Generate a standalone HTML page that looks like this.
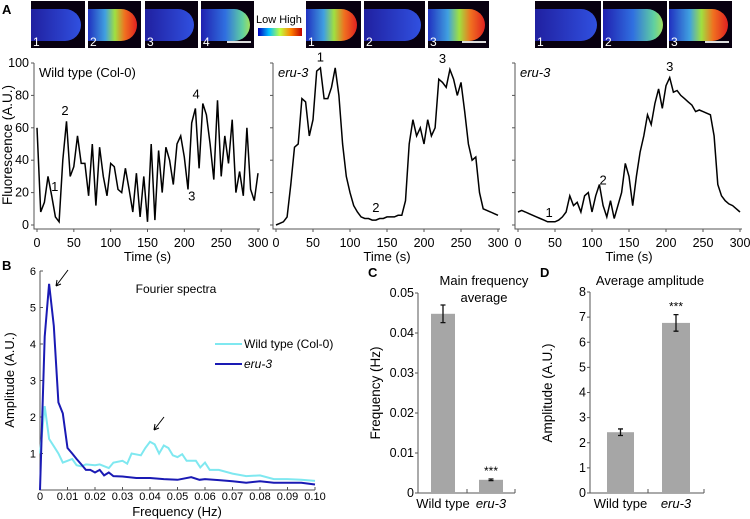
<!DOCTYPE html>
<html><head><meta charset="utf-8"><style>
html,body{margin:0;padding:0;background:#fff}
svg{display:block;font-family:"Liberation Sans",Arial,sans-serif}
</style></head><body>
<svg id="fig" width="750" height="519" viewBox="0 0 750 519" xmlns="http://www.w3.org/2000/svg">
<defs>
<linearGradient id="gHigh" x1="0" x2="1" y1="0" y2="0"><stop offset="0" stop-color="#2030c0"/><stop offset="0.35" stop-color="#40a0e0"/><stop offset="0.55" stop-color="#a0e040"/><stop offset="0.75" stop-color="#f07020"/><stop offset="1" stop-color="#e02020"/></linearGradient>
<linearGradient id="gMid" x1="0" x2="1" y1="0" y2="0"><stop offset="0" stop-color="#2020b0"/><stop offset="0.5" stop-color="#3070e0"/><stop offset="0.85" stop-color="#60d0a0"/><stop offset="1" stop-color="#a0e060"/></linearGradient>
<linearGradient id="gLow" x1="0" x2="1" y1="0" y2="0"><stop offset="0" stop-color="#2020a0"/><stop offset="1" stop-color="#3050e0"/></linearGradient>
<linearGradient id="gBar" x1="0" x2="1" y1="0" y2="0"><stop offset="0" stop-color="#0000c0"/><stop offset="0.25" stop-color="#00c0ff"/><stop offset="0.5" stop-color="#c0ff40"/><stop offset="0.75" stop-color="#ff8000"/><stop offset="1" stop-color="#c00000"/></linearGradient>
</defs>
<g id="imgs"></g>
<g id="charts"></g>
</svg>
<script>
// ---- data ----
const timeStep = 5;
const wtTrace = [60,8,14,30,18,5,2,40,64,30,36,55,38,38,18,50,12,48,30,18,38,36,22,20,35,22,8,32,5,30,2,50,3,46,20,48,40,25,50,55,42,22,63,72,35,75,68,50,28,77,30,55,38,65,20,33,18,60,22,15,32];
const eruTraceA = [0,1,2,5,25,48,50,78,76,55,65,95,97,78,78,85,97,80,50,30,20,12,8,5,4,4,3,3,4,4,5,5,5,6,6,15,50,65,55,60,50,65,55,60,90,88,85,96,90,80,88,70,50,40,42,20,10,9,8,7,6];
const eruTraceB = [8,9,8,7,6,5,4,3,2,2,2,3,5,8,18,12,14,8,18,20,8,18,25,12,5,15,4,12,20,38,30,12,30,45,55,68,62,75,84,72,86,91,82,83,80,78,76,74,70,71,70,69,68,55,25,18,15,13,12,10,8];
const timeTicks = [0,50,100,150,200,250,300];
const fluoTicks = [0,20,40,60,80,100];
const specFreq = [0,0.0017,0.0033,0.005,0.0067,0.0083,0.01,0.0117,0.0133,0.015,0.0167,0.0183,0.02,0.0217,0.0233,0.025,0.0267,0.03,0.035,0.04,0.045,0.05,0.055,0.058,0.06,0.065,0.07,0.075,0.08,0.085,0.09,0.095,0.1];
const specEru = [0,4.2,5.65,4.5,2.4,2.1,1.15,1.0,0.85,0.7,0.55,0.55,0.48,0.55,0.4,0.48,0.38,0.37,0.33,0.33,0.3,0.28,0.35,0.28,0.3,0.27,0.24,0.2,0.24,0.2,0.2,0.2,0.15];
const wtFreq = [0,0.0017,0.0033,0.005,0.0067,0.0083,0.01,0.0117,0.0133,0.015,0.0167,0.02,0.0217,0.025,0.0267,0.03,0.0317,0.0333,0.0367,0.0383,0.04,0.0417,0.0433,0.045,0.0467,0.0483,0.05,0.0517,0.0533,0.0567,0.0583,0.06,0.0617,0.065,0.07,0.075,0.08,0.085,0.09,0.095,0.1];
const specWt = [1,2.3,1.4,1.2,1.0,0.75,0.8,0.85,0.68,0.65,0.7,0.68,0.7,0.6,0.75,0.8,0.72,1.0,0.95,1.15,1.32,1.25,1.0,1.22,1.15,0.95,0.9,0.98,0.8,0.8,0.62,0.75,0.55,0.55,0.45,0.38,0.4,0.3,0.3,0.28,0.25];
const freqTicks = ["0","0.01","0.02","0.03","0.04","0.05","0.06","0.07","0.08","0.09","0.10"];
const ampTicks = [1,2,3,4,5,6];
const barCats = ["Wild type","eru-3"];
const freqMeans = [0.0448,0.0033];
const freqErr = [0.0022,0.0002];
const ampMeans = [2.42,6.77];
const ampErr = [0.13,0.33];
const cTicks = ["0","0.01","0.02","0.03","0.04","0.05"];
const dTicks = [0,1,2,3,4,5,6,7,8];

const NS="http://www.w3.org/2000/svg";
const root=document.getElementById('charts');
function mk(tag,attrs,parent,text){const e=document.createElementNS(NS,tag);for(const k in attrs)e.setAttribute(k,attrs[k]);if(text!==undefined)e.textContent=text;(parent||root).appendChild(e);return e;}

// ---- images ----
const imgG=document.getElementById('imgs');
const imgs=[[31,85,'gLow','1'],[88,141,'gHigh','2'],[145,198,'gLow','3'],[201,254,'gMid','4'],[306,361,'gHigh','1'],[364,425,'gLow','2'],[428,489,'gHigh','3'],[535,601,'gLow','1'],[603,667,'gMid','2'],[669,732,'gHigh','3']];
imgs.forEach((m,i)=>{
  const w=m[1]-m[0];
  const r=mk('rect',{x:m[0],y:1,width:w,height:47,fill:'#080010'},imgG);
  
  
  mk('path',{d:`M${m[0]} 9 H${m[1]-20} A16 16 0 0 1 ${m[1]-20} 41 H${m[0]} Z`,fill:`url(#${m[2]})`},imgG);
  mk('text',{x:m[0]+2,y:46,'font-size':12,fill:'#fff'},imgG,m[3]);
  if(i==3||i==6||i==9) mk('line',{x1:m[1]-27,x2:m[1]-3,y1:42,y2:42,stroke:'#ddd','stroke-width':2},imgG);
});
mk('rect',{x:258,y:28,width:44,height:8,fill:'url(#gBar)'},imgG);
mk('text',{x:256,y:23,'font-size':11,fill:'#000'},imgG,'Low High');
mk('text',{x:2,y:14,'font-size':13,'font-weight':'bold'},imgG,'A');

// ---- trace panels ----
function tracePanel(name,x0,x1,data,label,italic,showY,marks){
  const g=mk('g',{});
  
  
  const yb=225,yt=63;
  const sx=t=>x0+(t/300)*(x1-x0), sy=v=>yb-(v/100)*(yb-yt);
  const ax=x0-3;
  mk('path',{d:`M${ax} ${yt} V${yb+4} H${x1+2}`,stroke:'#555',fill:'none','stroke-width':1},g);
  fluoTicks.forEach(v=>{mk('line',{x1:ax-3,x2:ax,y1:sy(v),y2:sy(v),stroke:'#555'},g);
    if(showY) mk('text',{x:ax-5,y:sy(v)+4,'font-size':12.5,'text-anchor':'end'},g,v);});
  timeTicks.forEach(t=>{mk('line',{x1:sx(t),x2:sx(t),y1:yb+4,y2:yb+7,stroke:'#555'},g);
    mk('text',{x:sx(t),y:247,'font-size':12.5,'text-anchor':'middle'},g,t);});
  mk('text',{x:(x0+x1)/2,y:261,'font-size':13,'text-anchor':'middle'},g,'Time (s)');
  const d=data.map((v,i)=>(i?'L':'M')+sx(i*timeStep).toFixed(1)+' '+sy(v).toFixed(1)).join(' ');
  const p=mk('path',{d,stroke:'#000',fill:'none','stroke-width':1.5},g);
  
  
  mk('text',{x:x0+2,y:77,'font-size':13,'font-style':italic?'italic':'normal'},g,label);
  marks.forEach(m=>mk('text',{x:sx(m[0]),y:sy(m[1]),'font-size':13,'text-anchor':'middle'},g,m[2]));
  return g;
}
tracePanel('wild-type-trace',37,258,wtTrace,'Wild type (Col-0)',false,true,[[24,21,'1'],[38,68,'2'],[210,15,'3'],[216,78,'4']]);
tracePanel('eru3-trace-a',276,498,eruTraceA,'eru-3',true,false,[[60,101,'1'],[135,8,'2'],[225,100,'3']]);
tracePanel('eru3-trace-b',518,740,eruTraceB,'eru-3',true,false,[[42,5,'1'],[115,25,'2'],[205,95,'3']]);
mk('text',{x:12,y:145,'font-size':13.5,'text-anchor':'middle',transform:'rotate(-90 12 145)'},root,'Fluorescence (A.U.)');

// ---- Fourier spectra ----
(function(){
  const g=mk('g',{});
  
  
  const x0=40,x1=315,yb=490,ys=36.5;
  const sx=f=>x0+(f/0.1)*(x1-x0), sy=v=>yb-v*ys;
  mk('text',{x:2,y:270,'font-size':13,'font-weight':'bold'},g,'B');
  mk('path',{d:`M${x0} ${sy(6)} V${yb} H${x1}`,stroke:'#555',fill:'none'},g);
  ampTicks.forEach(v=>{mk('line',{x1:x0,x2:x0+3,y1:sy(v),y2:sy(v),stroke:'#555'},g);
    mk('text',{x:x0-4,y:sy(v)+4,'font-size':11,'text-anchor':'end'},g,v);});
  freqTicks.forEach((t,i)=>{const x=sx(i*0.01);mk('line',{x1:x,x2:x,y1:yb,y2:yb-3,stroke:'#555'},g);
    mk('text',{x,y:500,'font-size':11,'text-anchor':'middle'},g,t);});
  mk('text',{x:177,y:516,'font-size':13,'text-anchor':'middle'},g,'Frequency (Hz)');
  mk('text',{x:14,y:380,'font-size':13,'text-anchor':'middle',transform:'rotate(-90 14 380)'},g,'Amplitude (A.U.)');
  mk('text',{x:176,y:293,'font-size':12,'text-anchor':'middle'},g,'Fourier spectra');
  const pw=mk('path',{d:specWt.map((v,i)=>(i?'L':'M')+sx(wtFreq[i]).toFixed(1)+' '+sy(v).toFixed(1)).join(' '),stroke:'#7fe8f0',fill:'none','stroke-width':2},g);
  
  
  const pe=mk('path',{d:specEru.map((v,i)=>(i?'L':'M')+sx(specFreq[i]).toFixed(1)+' '+sy(v).toFixed(1)).join(' '),stroke:'#1a1ab4',fill:'none','stroke-width':2},g);
  
  
  mk('line',{x1:215,x2:242,y1:344,y2:344,stroke:'#7fe8f0','stroke-width':2},g);
  mk('text',{x:244,y:348,'font-size':12,},g,'Wild type (Col-0)');
  mk('line',{x1:215,x2:242,y1:364,y2:364,stroke:'#1a1ab4','stroke-width':2},g);
  mk('text',{x:244,y:368,'font-size':12,'font-style':'italic'},g,'eru-3');
  mk('path',{d:'M68 270 L56 286 M56 286 l1 -6 M56 286 l5 -2',stroke:'#000',fill:'none'},g);
  mk('path',{d:'M164 417 L154 430 M154 430 l1 -6 M154 430 l5 -2',stroke:'#000',fill:'none'},g);
})();

// ---- bar panels ----
function barPanel(name,letter,ax,x1,ytop,vmax,ticks,means,errs,bars,title,ylabel,starIdx){
  const g=mk('g',{});
  
  
  const yb=493, sy=v=>yb-(v/vmax)*(yb-ytop);
  mk('text',{x:ax-50,y:277,'font-size':13,'font-weight':'bold'},g,letter);
  mk('path',{d:`M${ax} ${ytop} V${yb} H${x1}`,stroke:'#555',fill:'none'},g);
  ticks.forEach(t=>{const v=parseFloat(t);mk('line',{x1:ax-3,x2:ax,y1:sy(v),y2:sy(v),stroke:'#555'},g);
    mk('text',{x:ax-4,y:sy(v)+4,'font-size':12.5,'text-anchor':'end'},g,t);});
  mk('line',{x1:(bars[0][1]+bars[1][0])/2,x2:(bars[0][1]+bars[1][0])/2,y1:yb,y2:yb-4,stroke:'#555'},g);
  mk('line',{x1:x1,x2:x1,y1:yb,y2:yb-4,stroke:'#555'},g);
  means.forEach((m,i)=>{
    const r=mk('rect',{x:bars[i][0],y:sy(m),width:bars[i][1]-bars[i][0],height:yb-sy(m),fill:'#a6a6a6'},g);
    
    
    const cx=(bars[i][0]+bars[i][1])/2;
    mk('path',{d:`M${cx} ${sy(m+errs[i])} V${sy(m-errs[i])} M${cx-2.5} ${sy(m+errs[i])} h5 M${cx-2.5} ${sy(m-errs[i])} h5`,stroke:'#111','stroke-width':1.3},g);
    mk('text',{x:cx,y:508,'font-size':13,'text-anchor':'middle','font-style':i?'italic':'normal'},g,barCats[i]);
  });
  const sc=(bars[starIdx][0]+bars[starIdx][1])/2;
  mk('text',{x:sc,y:sy(means[starIdx]+errs[starIdx])-4,'font-size':12,'text-anchor':'middle'},g,'***');
  title.forEach((t,i)=>mk('text',{x:title.cx,y:285+i*17,'font-size':13,'text-anchor':'middle'},g,t));
  mk('text',{x:ax-38,y:393,'font-size':13.5,'text-anchor':'middle',transform:`rotate(-90 ${ax-38} 393)`},g,ylabel);
}
const tc=['Main frequency','average'];tc.cx=484;
barPanel('main-frequency-chart','C',418,515,293,0.05,cTicks,freqMeans,freqErr,[[431,455],[479,503]],tc,'Frequency (Hz)',1);
const td=['Average amplitude'];td.cx=650;
barPanel('average-amplitude-chart','D',590,704,292,8,dTicks.map(String),ampMeans,ampErr,[[607,634],[662,690]],td,'Amplitude (A.U.)',1);
</script>
</body></html>
